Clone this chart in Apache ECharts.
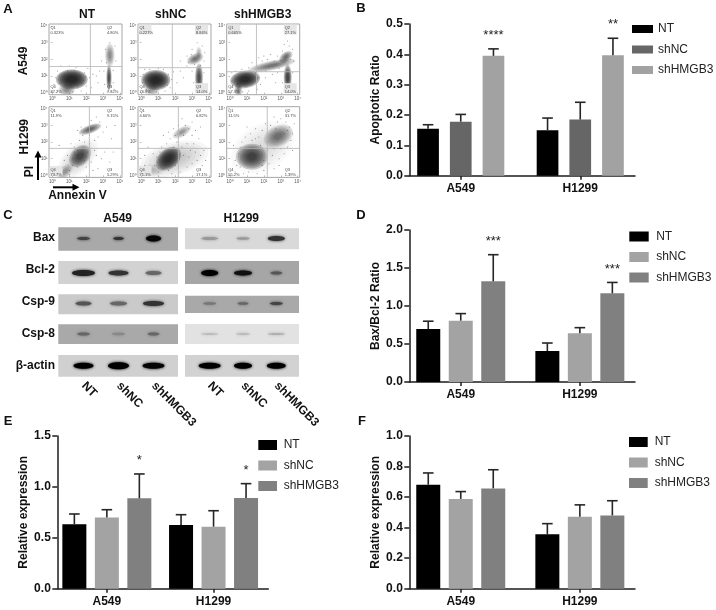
<!DOCTYPE html>
<html><head><meta charset="utf-8">
<style>html,body{margin:0;padding:0;background:#fff}#c{width:716px;height:610px}</style>
<script src="https://cdn.jsdelivr.net/npm/echarts@6/dist/echarts.min.js"></script>
</head><body><div id="c"></div>
<script>
// ---------- bar chart data ----------
const groups = ['A549', 'H1299'];
const seriesNames = ['NT', 'shNC', 'shHMGB3'];
const apoptosisMeans = [[0.155, 0.150], [0.178, 0.185], [0.395, 0.397]];
const apoptosisTops  = [[0.168, 0.190], [0.202, 0.242], [0.418, 0.453]];
const apoptosisStars = [['', ''], ['', ''], ['****', '**']];
const ratioMeans = [[0.697, 0.408], [0.807, 0.640], [1.325, 1.167]];
const ratioTops  = [[0.800, 0.513], [0.900, 0.715], [1.675, 1.310]];
const ratioStars = [['', ''], ['', ''], ['***', '***']];
const relEMeans = [[0.632, 0.626], [0.700, 0.609], [0.888, 0.891]];
const relETops  = [[0.734, 0.727], [0.776, 0.766], [1.127, 1.032]];
const relEStars = [['', ''], ['', ''], ['*', '*']];
const relFMeans = [[0.681, 0.356], [0.588, 0.472], [0.657, 0.480]];
const relFTops  = [[0.758, 0.426], [0.636, 0.549], [0.779, 0.576]];
const relFStars = [['', ''], ['', ''], ['', '']];

// ---------- western blot readings: per row, per lane ----------
const blotRows = ['Bax', 'Bcl-2', 'Csp-9', 'Csp-8', 'β-actin'];
const blotLanes = ['NT', 'shNC', 'shHMGB3'];
const a549BlotBackground = ['#a9a9a9', '#d2d2d2', '#cacaca', '#a9a9a9', '#d0d0d0'];
const h1299BlotBackground = ['#d9d9d9', '#a6a6a6', '#a9a9a9', '#e2e2e2', '#d2d2d2'];
const a549BandWidth = [[13, 11, 15], [23, 20, 16], [16, 17, 21], [13, 13, 12], [20, 21, 22]];
const a549BandHeight = [[3, 3, 6], [6, 5, 4], [4, 4, 5], [3, 2.5, 3], [6, 7, 6]];
const a549BandShade = ['#444 #333 #050505', '#222 #333 #666', '#555 #666 #333', '#666 #888 #666', '#000 #000 #050505'];
const h1299BandWidth = [[17, 13, 17], [17, 18, 12], [13, 11, 13], [17, 14, 17], [22, 18, 19]];
const h1299BandHeight = [[3, 2.5, 5], [6, 5, 3], [2.5, 2.5, 3], [1.5, 2, 2], [6, 6, 6]];
const h1299BandShade = ['#999 #999 #333', '#000 #111 #555', '#777 #666 #444', '#b5b5b5 #bbb #b0b0b0', '#000 #000 #000'];

// ---------- flow cytometry readings (log10 units) ----------
const flowGates = [[2.25, 1.57], [1.83, 1.5], [1.56, 1.26], [2.19, 1.62], [2.19, 1.62], [2.2, 1.62]];
const flowQuadrants = [
  ['0.323%', '4.80%', '7.62%', '87.2%'], ['0.227%', '8.84%', '14.0%', '76.9%'], ['0.665%', '27.1%', '14.0%', '57.3%'],
  ['11.9%', '9.15%', '5.29%', '73.7%'], ['4.60%', '6.82%', '17.1%', '71.1%'], ['11.5%', '31.7%', '1.39%', '55.2%']];
const flowQuadrantShaded = [[], [0, 1, 2], [0, 1, 2], [3], [3], []];
// each cluster: centre x, centre y, radius x, radius y, tilt degrees, density
const flowClusters = [
  [[0.85, 0.18, 0.38, 0.3, 0, 0.45], [1.15, 0.8, 0.72, 0.46, 0, 0.9], [3.35, 0.9, 0.12, 0.6, 0, 0.72], [3.4, 2.25, 0.22, 0.55, 0, 0.45]],
  [[0.62, 0.18, 0.36, 0.3, 0, 0.4], [0.85, 0.76, 0.66, 0.46, 0, 0.9], [3.41, 0.9, 0.18, 0.65, 0, 0.72], [3.18, 2.03, 0.4, 0.24, 25, 0.55], [3.4, 2.4, 0.14, 0.28, 0, 0.32]],
  [[0.49, 0.18, 0.18, 0.38, 0, 0.5], [0.89, 0.8, 0.68, 0.4, 8, 0.88], [2.47, 1.63, 1.1, 0.22, 12, 0.55], [3.3, 2.14, 0.36, 0.22, 40, 0.58], [3.41, 0.91, 0.18, 0.6, 0, 0.75]],
  [[1.5, 1.0, 1.15, 0.62, 45, 0.2], [1.64, 1.16, 0.58, 0.42, 45, 0.72], [2.23, 2.77, 0.55, 0.2, 20, 0.62], [0.75, 0.23, 0.45, 0.25, 45, 0.4]],
  [[1.95, 1.0, 1.6, 0.75, 15, 0.24], [1.6, 1.0, 0.65, 0.45, 40, 0.85], [2.39, 2.6, 0.48, 0.22, 30, 0.42], [0.6, 0.3, 0.6, 0.28, 0, 0.22]],
  [[1.95, 1.7, 1.55, 1.05, 30, 0.15], [1.28, 1.12, 0.72, 0.6, 0, 0.75], [2.86, 2.36, 0.7, 0.48, 25, 0.55]]
];
const flowScatterA = [[0.3,1.3],[0.5,1.6],[1.9,1.2],[2.2,0.9],[2.4,1.1],[2.6,1.0],[2.7,0.6],[1.0,1.6],[1.4,1.5],[2.0,0.4],[1.7,0.1],[2.3,0.3],[0.2,0.9],[0.1,0.5],[0.3,0.1],[1.2,0.05],[3.05,1.3],[3.6,1.35],[3.15,2.6],[3.7,2.8],[3.1,0.5],[3.65,0.2],[3.6,0.6],[3.2,1.8],[3.75,1.9],[2.9,1.9],[3.4,3.0],[1.85,0.75],[2.1,1.45],[2.8,1.3],[1.5,0.3],[1.75,0.55],[0.9,1.35],[1.3,1.35],[0.45,0.55],[1.95,0.95],[3.25,0.05],[3.5,0.1]];
const flowScatterB = [[0.1,1.1],[0.2,1.4],[0.3,0.2],[1.6,1.1],[1.8,0.8],[1.9,1.25],[2.1,0.6],[1.7,0.3],[2.3,1.3],[2.7,1.6],[3.0,1.3],[2.7,2.2],[2.8,1.8],[3.7,1.9],[3.6,2.8],[3.3,3.0],[3.0,2.6],[3.1,0.6],[3.7,0.4],[3.7,1.2],[3.2,0.1],[3.55,0.15],[1.4,0.1],[0.9,0.05],[0.5,1.4],[1.0,1.45],[1.3,1.4],[1.55,0.45],[2.5,0.9],[0.05,0.6],[3.15,1.7],[3.5,1.65],[2.95,2.3],[3.75,2.4],[2.3,1.9]];
const flowScatterC = [[0.1,1.2],[0.1,0.7],[0.3,1.3],[0.7,1.4],[1.1,1.5],[1.5,1.2],[1.7,0.9],[1.8,0.5],[1.6,0.2],[1.1,0.1],[0.75,0.05],[2.1,0.9],[2.5,1.1],[2.7,0.6],[2.8,1.2],[1.7,2.1],[2.0,2.2],[2.4,2.3],[2.8,2.2],[3.1,2.5],[3.5,2.8],[3.7,2.6],[3.4,3.1],[3.75,1.9],[2.1,1.3],[2.9,1.45],[3.1,0.6],[3.7,0.5],[3.7,1.2],[3.2,0.1],[3.6,0.1],[1.9,1.9],[2.6,1.9],[3.6,2.0],[2.2,2.0],[3.0,1.95],[1.3,1.8],[3.2,2.9]];
const flowScatterD = [[0.2,0.1],[0.4,0.5],[0.7,0.9],[1.0,0.3],[1.2,0.6],[0.9,1.2],[1.3,1.7],[1.1,1.9],[1.6,2.1],[1.8,2.4],[1.5,0.5],[2.0,0.5],[2.3,0.8],[2.6,1.2],[2.5,1.5],[2.9,1.0],[3.1,1.4],[2.2,1.9],[2.5,2.1],[2.7,2.3],[3.0,2.6],[2.8,3.2],[2.3,3.3],[1.7,2.9],[1.5,2.7],[3.2,2.9],[3.5,2.2],[1.9,0.9],[2.1,1.4],[1.3,1.4],[1.2,1.0],[1.5,1.5],[1.8,1.6],[2.0,1.1],[0.6,0.5],[0.3,0.4],[1.0,0.05],[2.7,0.4],[3.4,0.8],[3.6,1.4],[2.4,0.3],[1.9,2.0],[2.2,2.4],[2.6,3.5],[0.4,1.8],[3.7,3.0]];
const flowScatterE = [[0.3,0.1],[0.5,0.4],[0.8,0.6],[0.2,0.6],[1.0,0.2],[1.3,0.4],[0.9,1.1],[1.1,1.4],[0.7,1.3],[1.2,1.7],[1.5,1.9],[1.7,2.2],[2.0,2.4],[1.6,2.6],[1.9,2.8],[2.2,3.0],[2.6,3.0],[2.8,2.8],[3.0,2.4],[3.2,2.7],[3.4,2.2],[3.1,1.9],[2.7,1.9],[2.4,1.7],[2.9,1.5],[3.2,1.4],[3.5,1.2],[3.7,1.5],[3.3,0.9],[3.0,0.7],[2.7,0.5],[2.3,0.2],[1.8,0.1],[3.6,0.6],[3.8,0.9],[2.5,1.2],[2.2,1.5],[1.9,1.7],[2.1,2.0],[1.3,2.4],[2.5,2.4],[3.0,3.2],[3.5,2.9],[2.4,3.4],[0.4,1.7],[0.2,1.2],[1.6,0.3],[2.0,0.6],[2.8,1.1],[1.4,1.2]];
const flowScatterF = [[0.3,0.2],[0.6,0.5],[0.3,0.9],[0.5,1.3],[0.2,1.8],[0.7,2.0],[0.9,2.3],[1.2,2.5],[1.5,2.8],[1.3,2.1],[1.7,2.3],[1.9,2.7],[2.1,3.1],[2.4,3.0],[2.8,3.2],[3.0,3.4],[3.3,3.2],[3.5,2.9],[3.7,2.5],[3.6,2.1],[3.4,1.7],[3.7,1.5],[3.2,1.3],[2.9,1.0],[2.5,1.2],[2.3,0.7],[2.0,0.3],[1.6,0.1],[1.1,0.2],[0.8,0.1],[2.6,0.4],[1.9,1.3],[2.2,1.5],[1.8,1.8],[0.6,1.7],[0.9,1.6],[2.6,1.6],[3.0,1.6],[2.2,2.0],[3.2,2.5],[3.4,2.7],[2.7,2.8],[0.4,0.6],[2.9,0.6],[2.0,0.9],[1.5,2.2],[3.8,3.1],[1.0,2.9],[2.6,3.5],[1.9,0.6]];
const flowScatter = [flowScatterA, flowScatterB, flowScatterC, flowScatterD, flowScatterE, flowScatterF];
const flowDecadeTicks = [0, 1, 2, 3, 4];
const superscripts = ['⁰', '¹', '²', '³', '⁴'];

// ---------- layout and style (no data) ----------
const FONT = '"Liberation Sans", Arial, sans-serif';
const INK = '#1c1c1c';
const paletteB = ['#000000', '#666666', '#a2a2a2'];
const paletteOther = ['#000000', '#a3a3a3', '#808080'];
const barPanels = [
  {means: apoptosisMeans, tops: apoptosisTops, stars: apoptosisStars, max: 0.5, step: 0.1, yName: 'Apoptotic Ratio', pal: paletteB,
   axisX: [409.3, 635], top: 24, bottom: 175.7, barsX: [401, 640], w: 21.7, sp: 32.7, lg: [632, 23], sw: 21, sh: 8, pad: 0},
  {means: ratioMeans, tops: ratioTops, stars: ratioStars, max: 2, step: 0.5, yName: 'Bax/Bcl-2 Ratio', pal: paletteOther,
   axisX: [409.3, 635], top: 230, bottom: 382, barsX: [401.2, 639.4], w: 24, sp: 32.5, lg: [629.3, 230.5], sw: 19.4, sh: 10, pad: 2.5},
  {means: relEMeans, tops: relETops, stars: relEStars, max: 1.5, step: 0.5, yName: 'Relative expression', pal: paletteOther,
   axisX: [57.3, 268.3], top: 436, bottom: 588.7, barsX: [53.5, 266.9], w: 24, sp: 32.5, lg: [258.3, 439], sw: 18.7, sh: 10, pad: 1.7},
  {means: relFMeans, tops: relFTops, stars: relFStars, max: 1, step: 0.2, yName: 'Relative expression', pal: paletteOther,
   axisX: [409.3, 635], top: 436, bottom: 588.7, barsX: [401.2, 639.4], w: 24, sp: 32.5, lg: [629, 436], sw: 18.7, sh: 10, pad: 2}
];
const flowFrames = [[49, 24], [138, 24], [226.7, 24], [49, 106.7], [138, 106.7], [226.7, 106.7]];
const FLOW_W = 73, FLOW_H = 70.7;
const CLUSTER_LAYERS = [1.3, 1.14, 0.98, 0.82, 0.66, 0.5, 0.34];

const grid = [], xAxis = [], yAxis = [], series = [], legend = [];

// flow cytometry panels
flowFrames.forEach((f, i) => {
  const idx = grid.length;
  grid.push({left: f[0], top: f[1], width: FLOW_W, height: FLOW_H, show: true, borderColor: '#a6a6a6', borderWidth: 1, backgroundColor: '#fff'});
  const tick = {show: true, length: 1.5, customValues: flowDecadeTicks, lineStyle: {color: '#888', width: 0.6}};
  const lab = {show: true, fontSize: 4.5, color: '#555', margin: 1.5, customValues: flowDecadeTicks, formatter: v => '10' + superscripts[Math.round(v)]};
  xAxis.push({type: 'value', gridIndex: idx, min: -0.2, max: 4.12, axisLine: {show: false}, splitLine: {show: false}, axisTick: tick, axisLabel: lab});
  yAxis.push({type: 'value', gridIndex: idx, min: -0.12, max: 4.12, axisLine: {show: false}, splitLine: {show: false}, axisTick: tick, axisLabel: lab});
  series.push({type: 'custom', coordinateSystem: 'cartesian2d', xAxisIndex: idx, yAxisIndex: idx, z: 2, silent: true,
    data: flowClusters[i],
    renderItem(p, api) {
      const c = api.coord([api.value(0), api.value(1)]);
      const s = api.size([1, 1]);
      const a = 1 - Math.pow(1 - api.value(5), 1 / CLUSTER_LAYERS.length);
      const rx = api.value(2) * s[0], ry = api.value(3) * s[1];
      const b = p.coordSys;
      const inset = 0.5;
      // keep each cloud inside the plot frame
      const frame = {type: 'rect', shape: {x: b.x + inset, y: b.y + inset, width: b.width - 2 * inset, height: b.height - 2 * inset}};
      return {type: 'group', clipPath: frame,
        children: [{type: 'group', x: c[0], y: c[1], rotation: api.value(4) * Math.PI / 180,
          children: CLUSTER_LAYERS.map(k => ({type: 'ellipse', shape: {cx: 0, cy: 0, rx: rx * k, ry: ry * k},
            style: {fill: `rgba(30,30,30,${a})`, shadowBlur: 1.5, shadowColor: `rgba(30,30,30,${a})`}}))}]};
    }});
  series.push({type: 'scatter', xAxisIndex: idx, yAxisIndex: idx, z: 3, silent: true, symbolSize: 1.1,
    itemStyle: {color: '#444', opacity: 0.6}, data: flowScatter[i]});
  series.push({type: 'custom', coordinateSystem: 'cartesian2d', xAxisIndex: idx, yAxisIndex: idx, z: 4, silent: true,
    data: [flowGates[i]],
    renderItem(p, api) {
      const c = api.coord([api.value(0), api.value(1)]);
      const b = p.coordSys;
      const q = flowQuadrants[i];
      const shaded = flowQuadrantShaded[i];
      const L = b.x + 1.5, R = b.x + b.width - 15, T = b.y + 1.5, B = b.y + b.height - 10.5;
      const pos = [[L, T], [R, T], [R, B], [L, B]];
      const names = ['Q1', 'Q2', 'Q3', 'Q4'];
      const kids = [
        {type: 'line', shape: {x1: c[0], y1: b.y, x2: c[0], y2: b.y + b.height}, style: {stroke: '#b4b4b4', lineWidth: 0.8}},
        {type: 'line', shape: {x1: b.x, y1: c[1], x2: b.x + b.width, y2: c[1]}, style: {stroke: '#b4b4b4', lineWidth: 0.8}}
      ];
      pos.forEach((o, k) => {
        if (shaded.includes(k)) kids.push({type: 'rect', shape: {x: o[0] - 1, y: o[1] - 1, width: 13, height: 10}, style: {fill: '#e6e6e6'}});
        kids.push({type: 'text', style: {text: names[k] + '\n' + q[k], x: o[0], y: o[1], fontSize: 4, lineHeight: 5, fill: '#444', fontFamily: FONT}});
      });
      return {type: 'group', children: kids};
    }});
});

// western blots
function addBlot(left, width, bg, bgBox, bgRows, bw, bh, shade, showRowLabels) {
  const idx = grid.length;
  grid.push({left, top: 222, width, height: 160});
  xAxis.push({type: 'category', gridIndex: idx, data: blotLanes, axisLine: {show: false}, axisTick: {show: false},
    axisLabel: {rotate: -45, fontWeight: 'bold', fontSize: 12, color: '#111', margin: 2, interval: 0, hideOverlap: false}});
  yAxis.push({type: 'category', gridIndex: idx, inverse: true, data: blotRows, axisLine: {show: false}, axisTick: {show: false},
    axisLabel: {show: showRowLabels, fontWeight: 'bold', fontSize: 12, color: '#111', margin: 11}});
  series.push({type: 'custom', coordinateSystem: 'cartesian2d', xAxisIndex: idx, yAxisIndex: idx, z: 1, silent: true, clip: false,
    data: blotRows.map((r, i) => [0, i]),
    renderItem(p, api) {
      const i = api.value(1);
      return {type: 'rect', shape: {x: bgBox[0], y: bgRows[i][0], width: bgBox[1] - bgBox[0], height: bgRows[i][1] - bgRows[i][0]}, style: {fill: bg[i]}};
    }});
  const bands = [];
  blotRows.forEach((r, i) => blotLanes.forEach((l, j) => bands.push([j, i, bw[i][j], bh[i][j], shade[i].split(' ')[j]])));
  const rowShift = [0.5, 3, 1.5, 0, -0.3];
  series.push({type: 'custom', coordinateSystem: 'cartesian2d', xAxisIndex: idx, yAxisIndex: idx, z: 2, silent: true, clip: false,
    data: bands,
    renderItem(p, api) {
      const row = api.value(1);
      const c = api.coord([api.value(0), row]);
      const col = bands[p.dataIndex][4];
      return {type: 'ellipse', shape: {cx: c[0], cy: c[1] + rowShift[row], rx: api.value(2) / 2, ry: api.value(3) / 2},
        style: {fill: col, shadowBlur: 3, shadowColor: col}};
    }});
}
const a549Rows = [[227.3, 250.7], [261, 284], [294.3, 314.3], [324.3, 344], [355, 376.7]];
const h1299Rows = [[228.3, 249.3], [261, 284], [295.7, 313], [324, 344], [355, 376.7]];
addBlot(66, 105, a549BlotBackground, [58.3, 178], a549Rows, a549BandWidth, a549BandHeight, a549BandShade, true);
addBlot(193, 100, h1299BlotBackground, [185, 299], h1299Rows, h1299BandWidth, h1299BandHeight, h1299BandShade, false);

// bar panels: one grid carries the axes, a second carries the bars
barPanels.forEach(P => {
  const a = grid.length;
  grid.push({left: P.axisX[0], width: P.axisX[1] - P.axisX[0], top: P.top, height: P.bottom - P.top});
  xAxis.push({type: 'value', gridIndex: a, min: 0, max: 1, axisLine: {show: true, lineStyle: {color: INK, width: 1.5}}, axisTick: {show: false}, axisLabel: {show: false}, splitLine: {show: false}});
  yAxis.push({type: 'value', gridIndex: a, min: 0, max: P.max, interval: P.step, name: P.yName, nameLocation: 'middle', nameGap: 28,
    nameTextStyle: {fontWeight: 'bold', fontSize: 12, color: '#111'},
    axisLine: {show: true, lineStyle: {color: INK, width: 1.5}}, axisTick: {show: true, length: 5, lineStyle: {color: INK, width: 1.5}},
    axisLabel: {fontWeight: 'bold', fontSize: 12, color: '#111', margin: 6.5, formatter: v => v.toFixed(1)}, splitLine: {show: false}});
  const b = grid.length;
  grid.push({left: P.barsX[0], width: P.barsX[1] - P.barsX[0], top: P.top, height: P.bottom - P.top});
  xAxis.push({type: 'category', gridIndex: b, data: groups, axisLine: {show: false},
    axisTick: {show: true, alignWithLabel: true, length: 4, lineStyle: {color: INK, width: 1.5}},
    axisLabel: {fontWeight: 'bold', fontSize: 12, color: '#111', margin: 7}});
  yAxis.push({type: 'value', gridIndex: b, min: 0, max: P.max, interval: P.step, show: false, splitLine: {show: false}});
  seriesNames.forEach((name, s) => {
    series.push({type: 'bar', name, xAxisIndex: b, yAxisIndex: b, data: P.means[s], barWidth: P.w,
      barGap: ((P.sp - P.w) / P.w * 100).toFixed(1) + '%', itemStyle: {color: P.pal[s]}, z: 3, silent: true});
    series.push({type: 'custom', coordinateSystem: 'cartesian2d', xAxisIndex: b, yAxisIndex: b, z: 4, silent: true, clip: false,
      data: groups.map((g, i) => [i, P.means[s][i], P.tops[s][i]]),
      renderItem(p, api) {
        const dx = (s - 1) * P.sp;
        const base = api.coord([api.value(0), api.value(1)]);
        const top = api.coord([api.value(0), api.value(2)]);
        const x = base[0] + dx;
        const st = {stroke: '#262626', lineWidth: 1.6};
        const kids = [
          {type: 'line', shape: {x1: x, y1: base[1], x2: x, y2: top[1]}, style: st},
          {type: 'line', shape: {x1: x - 5.3, y1: top[1], x2: x + 5.3, y2: top[1]}, style: st}
        ];
        const star = P.stars[s][p.dataIndex];
        if (star) kids.push({type: 'text', style: {text: star, x, y: top[1] - 13.5, fontSize: 13, fill: '#222', fontFamily: FONT, textAlign: 'center', textVerticalAlign: 'middle'}});
        return {type: 'group', children: kids};
      }});
  });
  legend.push({show: true, left: P.lg[0], top: P.lg[1], orient: 'vertical', icon: 'rect', itemWidth: P.sw, itemHeight: P.sh, itemGap: 8.5,
    selectedMode: false, padding: 0, textStyle: {fontSize: 12, color: '#222', padding: [0, 0, 0, P.pad], lineHeight: P.sh},
    data: seriesNames.map((n, s) => ({name: n, itemStyle: {color: P.pal[s]}}))});
});

// free text labels and arrows
const txt = (text, x, y, extra) => ({type: 'text', x, y, z: 50, rotation: (extra && extra.rot) || 0, style: {text, fontFamily: FONT, fontWeight: 'bold', fontSize: (extra && extra.size) || 12, fill: '#111', textAlign: (extra && extra.align) || 'center', textVerticalAlign: 'middle'}});
const ROT = Math.PI / 2;
const graphicEls = [
  txt('A', 8, 9.5, {size: 13}), txt('B', 361, 8, {size: 13}), txt('C', 8, 215, {size: 13}), txt('D', 361, 215, {size: 13}), txt('E', 8, 421.5, {size: 13}), txt('F', 362, 421.5, {size: 13}),
  txt('NT', 87, 15), txt('shNC', 170.7, 15), txt('shHMGB3', 262.7, 15),
  txt('A549', 23.3, 61, {rot: ROT}), txt('H1299', 24.3, 136.7, {rot: ROT}), txt('PI', 30, 171.7, {rot: ROT}),
  txt('Annexin V', 77.5, 196), txt('A549', 117.7, 218.3), txt('H1299', 241.3, 218.3),
  {type: 'polyline', z: 50, shape: {points: [[38, 180], [38, 155]]}, style: {stroke: '#000', lineWidth: 2, fill: 'none'}},
  {type: 'polygon', z: 50, shape: {points: [[38, 150.5], [34.5, 157.5], [41.5, 157.5]]}, style: {fill: '#000'}},
  {type: 'polyline', z: 50, shape: {points: [[53, 187.3], [74, 187.3]]}, style: {stroke: '#000', lineWidth: 2, fill: 'none'}},
  {type: 'polygon', z: 50, shape: {points: [[79.5, 187.3], [72.5, 183.8], [72.5, 190.8]]}, style: {fill: '#000'}}
];

const chart = echarts.init(document.getElementById('c'), null, {renderer: 'canvas'});
chart.setOption({
  animation: false, backgroundColor: '#fff', textStyle: {fontFamily: FONT},
  grid, xAxis, yAxis, series, legend, graphic: {elements: graphicEls}, tooltip: {show: false}
});
</script></body></html>
